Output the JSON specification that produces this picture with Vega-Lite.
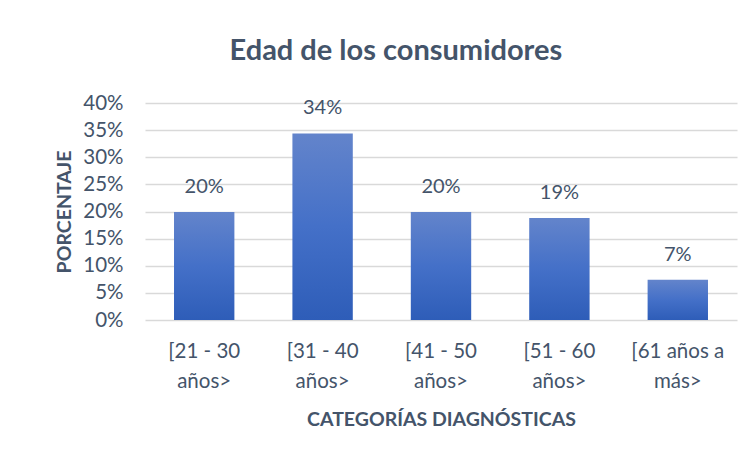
{
  "$schema": "https://vega.github.io/schema/vega-lite/v6.json",
  "width": 592,
  "height": 217,
  "padding": {"left": 54, "top": 37, "right": 16, "bottom": 10},
  "background": "white",
  "title": {
    "text": "Edad de los consumidores",
    "font": "Lato",
    "fontSize": 29,
    "fontWeight": "bold",
    "color": "#44546a",
    "offset": 27,
    "anchor": "middle",
    "frame": "bounds"
  },
  "data": {
    "values": [
      {"categoria": "[21 - 30 años>", "porcentaje": 0.199},
      {"categoria": "[31 - 40 años>", "porcentaje": 0.344},
      {"categoria": "[41 - 50 años>", "porcentaje": 0.199},
      {"categoria": "[51 - 60 años>", "porcentaje": 0.188},
      {"categoria": "[61 años a más>", "porcentaje": 0.074}
    ]
  },
  "encoding": {
    "x": {
      "field": "categoria",
      "type": "nominal",
      "sort": null,
      "scale": {"paddingInner": 0.49, "paddingOuter": 0.245},
      "axis": {
        "title": "CATEGORÍAS DIAGNÓSTICAS",
        "labelAngle": 0,
        "labelExpr": "[slice(datum.value, 0, lastindexof(datum.value, ' ')), slice(datum.value, lastindexof(datum.value, ' ') + 1)]",
        "labelLineHeight": 30,
        "labelPadding": 21,
        "labelFontSize": 20.5,
        "labelFont": "Lato",
        "labelColor": "#44546a",
        "titleFont": "Lato",
        "titleFontSize": 19.5,
        "titleFontWeight": "bold",
        "titleColor": "#44546a",
        "titlePadding": 19,
        "ticks": false,
        "domain": false,
        "grid": false
      }
    },
    "y": {
      "field": "porcentaje",
      "type": "quantitative",
      "scale": {"domain": [0, 0.4]},
      "axis": {
        "title": "PORCENTAJE",
        "format": ".0%",
        "values": [0, 0.05, 0.1, 0.15, 0.2, 0.25, 0.3, 0.35, 0.4],
        "labelFontSize": 20.5,
        "labelFont": "Lato",
        "labelColor": "#44546a",
        "labelPadding": 22,
        "titleFont": "Lato",
        "titleFontSize": 19.5,
        "titleFontWeight": "bold",
        "titleColor": "#44546a",
        "titlePadding": 8,
        "ticks": false,
        "domain": false,
        "grid": true,
        "gridColor": "#d9d9d9",
        "gridWidth": 1.5
      }
    }
  },
  "layer": [
    {
      "mark": {
        "type": "bar",
        "color": {
          "gradient": "linear",
          "x1": 0, "y1": 0, "x2": 0, "y2": 1,
          "stops": [
            {"offset": 0, "color": "#6384cb"},
            {"offset": 0.5, "color": "#4470c8"},
            {"offset": 1, "color": "#2e5db8"}
          ]
        }
      }
    },
    {
      "mark": {
        "type": "text",
        "baseline": "bottom",
        "dy": -15,
        "font": "Lato",
        "fontSize": 20,
        "color": "#44546a"
      },
      "encoding": {
        "text": {"field": "porcentaje", "type": "quantitative", "format": ".0%"}
      }
    }
  ],
  "config": {"view": {"stroke": null}}
}
